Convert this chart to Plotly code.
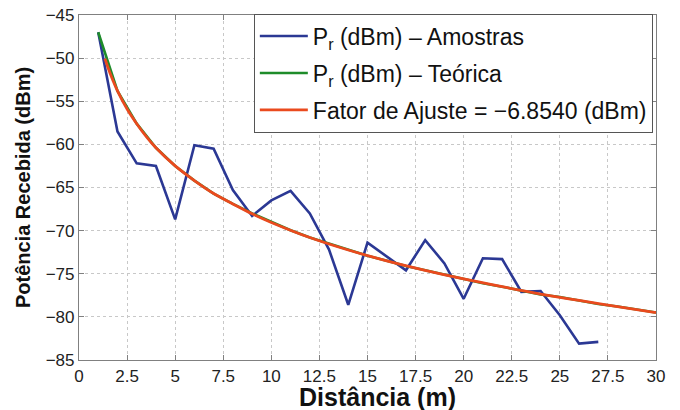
import plotly.graph_objects as go

# Measured samples (blue)
dist_samples = list(range(1, 28))
pr_samples = [-47.0, -58.5, -62.2, -62.5, -68.7, -60.1, -60.5, -65.3, -68.3, -66.5,
              -65.4, -68.0, -72.2, -78.6, -71.4, -73.0, -74.6, -71.1, -73.8, -77.9,
              -73.2, -73.3, -77.1, -77.0, -79.8, -83.1, -82.9]

# Theoretical (green), integer distances
dist_theory = list(range(1, 31))
pr_theory = [-47.0, -53.8, -57.6, -60.4, -62.5, -64.2, -65.7, -66.9, -68.0, -69.0,
             -69.95, -70.8, -71.5, -72.2, -72.9, -73.5, -74.1, -74.6, -75.1, -75.6,
             -76.1, -76.5, -76.95, -77.4, -77.7, -78.1, -78.5, -78.8, -79.15, -79.5]

# Fitted curve (red)
dist_fit = [1.35, 1.5, 1.75, 2, 2.5, 3, 3.5, 4, 5, 6, 7, 8, 9, 10, 12, 14, 16, 18,
            20, 22, 24, 26, 28, 30]
pr_fit = [-50.05, -51.05, -52.5, -53.8, -55.9, -57.6, -59.1, -60.4, -62.5, -64.2,
          -65.7, -66.9, -68.05, -69.05, -70.8, -72.25, -73.5, -74.6, -75.6, -76.5,
          -77.35, -78.1, -78.8, -79.5]

x_ticks = [0, 2.5, 5, 7.5, 10, 12.5, 15, 17.5, 20, 22.5, 25, 27.5, 30]
x_tick_labels = ["0", "2.5", "5", "7.5", "10", "12.5", "15", "17.5", "20", "22.5", "25", "27.5", "30"]
y_ticks = [-85, -80, -75, -70, -65, -60, -55, -50, -45]
y_tick_labels = ["\u221285", "\u221280", "\u221275", "\u221270", "\u221265", "\u221260", "\u221255", "\u221250", "\u221245"]

fig = go.Figure()
fig.add_trace(go.Scatter(x=dist_samples, y=pr_samples, mode="lines",
                         line=dict(color="#2b3894", width=2.6),
                         name="P<sub>r</sub> (dBm) \u2013 Amostras", legendgroup="a"))
fig.add_trace(go.Scatter(x=dist_theory, y=pr_theory, mode="lines",
                         line=dict(color="#1e8c2a", width=2.6),
                         name="P<sub>r</sub> (dBm) \u2013 Teórica", legendgroup="b"))
fig.add_trace(go.Scatter(x=dist_fit, y=pr_fit, mode="lines", line_shape="spline",
                         line=dict(color="#ea4a1e", width=2.8),
                         name="Fator de Ajuste = \u22126.8540 (dBm)", legendgroup="c"))

axis_common = dict(showline=True, linecolor="#808080", linewidth=1.2, mirror="ticks",
                   ticks="inside", ticklen=5, tickcolor="#808080", automargin=False,
                   ticklabeloverflow="allow",
                   showgrid=True, gridcolor="#c8c8c8", griddash="dot", gridwidth=1,
                   zeroline=False, tickfont=dict(family="Liberation Sans, Arial", size=17, color="#222"))

fig.update_layout(
    width=680, height=410,
    margin=dict(l=79, r=24, t=15, b=50),
    paper_bgcolor="white", plot_bgcolor="white",
    xaxis=dict(range=[0, 30], tickvals=x_ticks, ticktext=x_tick_labels, **axis_common),
    yaxis=dict(range=[-85, -45], tickvals=y_ticks, ticktext=y_tick_labels,
               title=dict(text="<b>Potência Recebida (dBm)</b>", standoff=9,
                          font=dict(family="Liberation Sans, Arial", size=20, color="#111")),
               **axis_common),
    legend=dict(x=0.303, xanchor="left", y=1.004, yanchor="top",
                bgcolor="white", bordercolor="#555", borderwidth=1,
                font=dict(family="Liberation Sans, Arial", size=23, color="#111"),
                itemwidth=48, traceorder="grouped", tracegroupgap=4),
    showlegend=True,
    annotations=[dict(text="<b>Distância (m)</b>", xref="paper", yref="paper",
                      x=0.518, y=-0.106, xanchor="center", yanchor="middle", showarrow=False,
                      font=dict(family="Liberation Sans Narrow, Liberation Sans, Arial", size=25, color="#111"))],
)

# remove the browser's default body margin so the figure fills the window exactly
fig.write_html("out.html", config={"displayModeBar": False},
               post_script="document.body.style.margin='0px';")
